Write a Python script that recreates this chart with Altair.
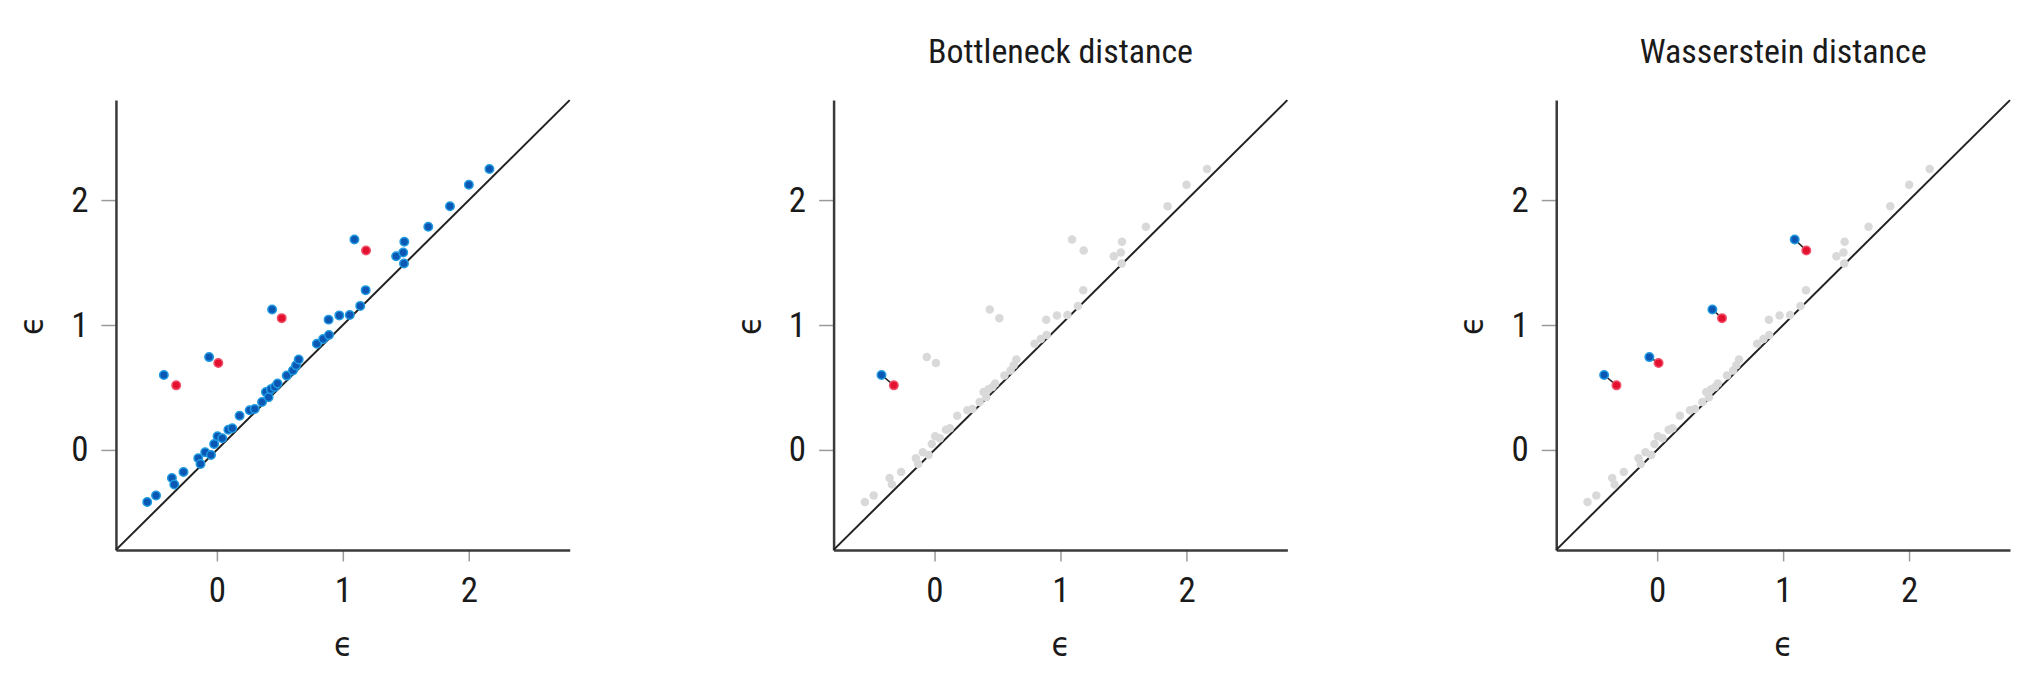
import altair as alt
import pandas as pd

# ---- data ----
axis_domain = [-0.8, 2.8]
tick_values = [0, 1, 2]

# blue diagram: points close to the diagonal
diag_x = [-0.552, -0.482, -0.356, -0.337, -0.264, -0.147, -0.129, -0.092, -0.046, -0.021,
          0.006, 0.043, 0.092, 0.123, 0.181, 0.261, 0.301, 0.359, 0.390, 0.411,
          0.429, 0.460, 0.482, 0.555, 0.604, 0.629, 0.650, 0.794, 0.844, 0.890,
          0.887, 0.972, 1.055, 1.138, 1.181, 1.423, 1.479, 1.488, 1.485, 1.678,
          1.850, 2.000, 2.163]
diag_y = [-0.416, -0.365, -0.224, -0.277, -0.176, -0.066, -0.113, -0.019, -0.041, 0.047,
          0.110, 0.094, 0.161, 0.173, 0.274, 0.318, 0.328, 0.384, 0.463, 0.422,
          0.485, 0.504, 0.532, 0.595, 0.636, 0.677, 0.724, 0.850, 0.888, 0.920,
          1.043, 1.077, 1.080, 1.153, 1.279, 1.550, 1.581, 1.666, 1.493, 1.786,
          1.950, 2.123, 2.249]

# blue diagram: points far from the diagonal (matched to the red ones)
blue_x = [-0.420, -0.061, 0.439, 1.092]
blue_y = [0.600, 0.743, 1.124, 1.685]

# red diagram
red_x = [-0.322, 0.012, 0.515, 1.184]
red_y = [0.517, 0.696, 1.055, 1.597]

panel_titles = [" ", "Bottleneck distance", "Wasserstein distance"]
panel_matches = [[], [0], [0, 1, 2, 3]]

# ---- styling ----
FONT = "Roboto Condensed, Liberation Sans Narrow, DejaVu Sans Condensed, Roboto, sans-serif"
BLUE_FILL = "#0b57b4"
BLUE_EDGE = "#1f9be2"
RED_FILL = "#e4102f"
RED_EDGE = "#f0506a"
GREY = "#d9d9d9"
PT = 72

diag_df = pd.DataFrame({"x": axis_domain, "y": axis_domain})
near_df = pd.DataFrame({"x": diag_x, "y": diag_y})
blue_df = pd.DataFrame({"x": blue_x, "y": blue_y})
red_df = pd.DataFrame({"x": red_x, "y": red_y})
blue_all_df = pd.concat([near_df, blue_df], ignore_index=True)
all_df = pd.concat([near_df, blue_df, red_df], ignore_index=True)

xs = alt.Scale(domain=axis_domain, nice=False, zero=False)
ys = alt.Scale(domain=axis_domain, nice=False, zero=False)
AX = alt.Axis(values=tick_values, title="ϵ", format="d")
AY = alt.Axis(values=tick_values, title="ϵ", format="d")


def X(f):
    return alt.X(f, type="quantitative", scale=xs, axis=AX, title="ϵ")


def Y(f):
    return alt.Y(f, type="quantitative", scale=ys, axis=AY, title="ϵ")


def dots(df, fx, fy, fill, edge=None):
    kw = dict(size=PT, opacity=1, color=fill)
    if edge:
        kw.update(stroke=edge, strokeWidth=1.5)
    return alt.Chart(df).mark_circle(**kw).encode(x=X(fx), y=Y(fy))


def panel(title, matches):
    diag = alt.Chart(diag_df).mark_line(color="#222222", strokeWidth=2).encode(x=X("x"), y=Y("y"))
    layers = [diag]
    if not matches:
        layers.append(dots(blue_all_df, "x", "y", BLUE_FILL, BLUE_EDGE))
        layers.append(dots(red_df, "x", "y", RED_FILL, RED_EDGE))
    else:
        layers.append(dots(all_df, "x", "y", GREY))
        pairs = pd.DataFrame({
            "bx": [blue_x[i] for i in matches], "by": [blue_y[i] for i in matches],
            "rx": [red_x[i] for i in matches], "ry": [red_y[i] for i in matches],
        })
        layers.append(alt.Chart(pairs).mark_rule(color="#222222", strokeWidth=1.5).encode(
            x=X("bx"), y=Y("by"), x2="rx:Q", y2="ry:Q"))
        layers.append(dots(pairs, "bx", "by", BLUE_FILL, BLUE_EDGE))
        layers.append(dots(pairs, "rx", "ry", RED_FILL, RED_EDGE))
    return alt.layer(*layers).properties(
        width=454, height=450,
        title=alt.TitleParams(title, fontSize=34, font=FONT, fontWeight="normal",
                              color="#1a1a1a", anchor="middle", offset=26),
    )


p1 = panel(panel_titles[0], panel_matches[0])
p2 = panel(panel_titles[1], panel_matches[1])
p3 = panel(panel_titles[2], panel_matches[2])

chart = alt.hconcat(p1, alt.hconcat(p2, p3, spacing=164), spacing=159)

chart = chart.properties(
    padding={"left": 7, "top": 28, "right": 5, "bottom": 5}
).configure_view(stroke=None).configure_axis(
    grid=False,
    domainColor="#3a3a3a",
    domainWidth=2.5,
    tickColor="#9a9a9a",
    tickWidth=1.5,
    labelFont=FONT,
    labelFontSize=35,
    labelColor="#1a1a1a",
    titleFont=FONT,
    titleFontSize=34,
    titleFontWeight="normal",
    titleColor="#1a1a1a",
).configure_axisX(
    tickSize=11,
    labelPadding=13,
    titlePadding=20,
).configure_axisY(
    tickSize=15,
    labelPadding=13,
    titlePadding=21,
)

chart.save("out.html", embed_options={"renderer": "svg", "actions": False})
